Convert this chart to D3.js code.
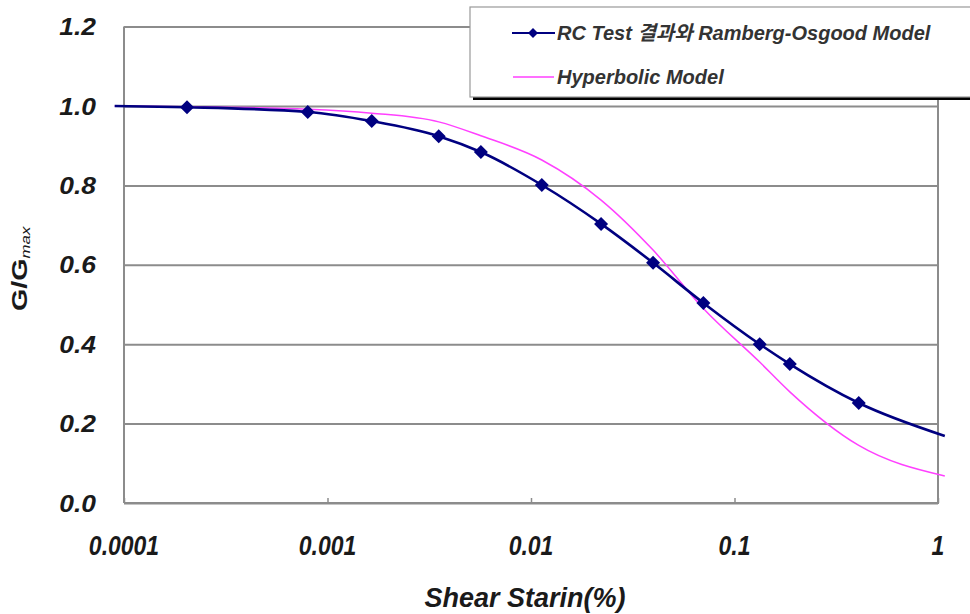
<!DOCTYPE html>
<html><head><meta charset="utf-8">
<script src="https://cdn.jsdelivr.net/npm/d3@7/dist/d3.min.js"></script>
<style>body{margin:0;background:#fff;overflow:hidden}</style>
</head><body>
<svg id="c" width="970" height="614"></svg>
<script>
// ---- data ----
const strainRC = [0.00009, 0.000204, 0.0008, 0.00165, 0.00352, 0.00567, 0.0113, 0.0221, 0.0398, 0.0703, 0.133, 0.187, 0.408, 1.08];
const ratioRC  = [1.0, 0.997, 0.985, 0.962, 0.924, 0.884, 0.801, 0.703, 0.605, 0.504, 0.400, 0.350, 0.252, 0.169];
const markedRC = [false, true, true, true, true, true, true, true, true, true, true, true, true, false];
const strainHyp = [0.00009, 0.000204, 0.0008, 0.00165, 0.00352, 0.00567, 0.0113, 0.0221, 0.0398, 0.0703, 0.133, 0.187, 0.408, 1.08];
const ratioHyp  = [1.0, 0.998, 0.992, 0.982, 0.960, 0.925, 0.864, 0.763, 0.637, 0.490, 0.355, 0.280, 0.145, 0.068];
const xTickValues = [0.0001, 0.001, 0.01, 0.1, 1];
const xTickLabels = ["0.0001", "0.001", "0.01", "0.1", "1"];
const yTickValues = [0, 0.2, 0.4, 0.6, 0.8, 1.0, 1.2];
const yTickLabels = ["0.0", "0.2", "0.4", "0.6", "0.8", "1.0", "1.2"];
const seriesNames = ["RC Test  결과와 Ramberg-Osgood Model", "Hyperbolic Model"];
const xTitle = "Shear Starin(%)";

// ---- layout ----
const L = 124, R = 938, T = 26.6, B = 503;
const svg = d3.select("#c");
const font = "'Liberation Sans', Arial, 'Noto Sans CJK KR', sans-serif";
const x = d3.scaleLog().domain([0.0001, 1]).range([L, R]);
const y = d3.scaleLinear().domain([0, 1.2]).range([B, T]);
const grid = "#8c8c8c";

// gridlines (y)
const gy = svg.append("g").attr("transform", `translate(${L},0)`)
  .call(d3.axisLeft(y).tickValues(yTickValues).tickSize(-(R - L)).tickFormat(""));
gy.select(".domain").remove();
gy.selectAll(".tick line").attr("stroke", grid).attr("stroke-width", 2);

// y tick labels
svg.append("g").selectAll("text").data(yTickValues).join("text")
  .attr("transform", d => `translate(96,${y(d)}) scale(1.1,1)`).attr("dy", "0.36em")
  .attr("text-anchor", "end")
  .attr("font-family", font).attr("font-size", 24).attr("font-weight", "bold").attr("font-style", "italic")
  .attr("fill", "#1a1a1a")
  .text((d, i) => yTickLabels[i]);

// x axis
const gx = svg.append("g").attr("transform", `translate(0,${B})`)
  .call(d3.axisBottom(x).tickValues(xTickValues).tickSize(-5).tickFormat(""));
gx.select(".domain").attr("stroke", grid).attr("stroke-width", 2).attr("d", `M${L},0H${R}`);
gx.selectAll(".tick line").attr("stroke", grid).attr("stroke-width", 1.5);

// left axis and right border
svg.append("line").attr("x1", L).attr("x2", L).attr("y1", y(1.2)).attr("y2", B).attr("stroke", grid).attr("stroke-width", 2);
svg.append("line").attr("x1", R).attr("x2", R).attr("y1", y(1.2)).attr("y2", B + 1).attr("stroke", grid).attr("stroke-width", 2);

// x tick labels
svg.append("g").selectAll("text").data(xTickValues).join("text")
  .attr("transform", d => `translate(${x(d)},555) scale(1,1.2)`)
  .attr("text-anchor", "middle")
  .attr("font-family", font).attr("font-size", 23).attr("font-weight", "bold").attr("font-style", "italic")
  .attr("fill", "#1a1a1a")
  .text((d, i) => xTickLabels[i]);

// x title
svg.append("text").attr("x", 525).attr("y", 607).attr("text-anchor", "middle")
  .attr("font-family", font).attr("font-size", 27).attr("font-weight", "bold").attr("font-style", "italic")
  .attr("fill", "#1a1a1a").text(xTitle);

// y title
const yt = svg.append("text").attr("transform", "translate(27,311) rotate(-90) scale(1.3,1)")
  .attr("font-family", font).attr("fill", "#1a1a1a");
yt.append("tspan").attr("font-size", 22).attr("font-weight", "bold").text("G/G");
yt.append("tspan").attr("font-size", 13).attr("font-style", "italic").attr("dy", 3).text("max");

// series
const line = d3.line().x(d => x(d[0])).y(d => y(d[1])).curve(d3.curveMonotoneX);
const hypData = strainHyp.map((s, i) => [s, ratioHyp[i]]);
const rcData = strainRC.map((s, i) => [s, ratioRC[i]]);
svg.append("path").attr("d", line(hypData)).attr("fill", "none").attr("stroke", "#ff40ff").attr("stroke-width", 1.5);
svg.append("path").attr("d", line(rcData)).attr("fill", "none").attr("stroke", "#000080").attr("stroke-width", 2.6);
const square = d3.symbol().type(d3.symbolSquare).size(98);
svg.append("g").selectAll("path").data(rcData.filter((d, i) => markedRC[i])).join("path")
  .attr("transform", d => `translate(${x(d[0])},${y(d[1])}) rotate(45)`)
  .attr("d", square).attr("fill", "#000080");

// legend
const lg = svg.append("g");
lg.append("rect").attr("x", 473).attr("y", 10).attr("width", 520).attr("height", 90).attr("fill", "#000");
lg.append("rect").attr("x", 470).attr("y", 7).attr("width", 520).attr("height", 90)
  .attr("fill", "#fff").attr("stroke", "#999").attr("stroke-width", 1.2);
lg.append("line").attr("x1", 512).attr("x2", 555).attr("y1", 33).attr("y2", 33).attr("stroke", "#000080").attr("stroke-width", 2.2);
lg.append("path").attr("transform", "translate(533,33) rotate(45)").attr("d", d3.symbol().type(d3.symbolSquare).size(50)).attr("fill", "#000080");
lg.append("line").attr("x1", 513).attr("x2", 554).attr("y1", 77).attr("y2", 77).attr("stroke", "#ff40ff").attr("stroke-width", 1.5);
lg.selectAll("text.lt").data(seriesNames).join("text").attr("class", "lt")
  .attr("x", 557).attr("y", (d, i) => i === 0 ? 40 : 84)
  .attr("font-family", font).attr("font-size", 20).attr("font-weight", "bold").attr("font-style", "italic")
  .attr("fill", "#333").text(d => d);
</script>
</body></html>
